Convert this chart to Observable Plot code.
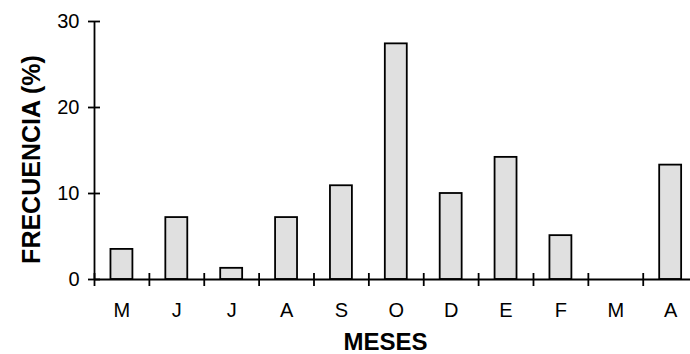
<!DOCTYPE html>
<html><head><meta charset="utf-8">
<script src="https://cdn.jsdelivr.net/npm/d3@7"></script>
<script src="https://cdn.jsdelivr.net/npm/@observablehq/plot@0.6"></script>
<style>body{margin:0;background:#fff}</style>
</head><body><div id="chart"></div>
<script>
const months = ["M","J","J","A","S","O","D","E","F","M","A"];
const frequency = [3.5, 7.2, 1.3, 7.2, 10.9, 27.4, 10.0, 14.2, 5.1, 0, 13.3];
const yTicks = [0, 10, 20, 30];
const yLabel = "FRECUENCIA (%)";
const xLabel = "MESES";

const data = months.map((m, i) => ({i, m, v: frequency[i]}));
const bars = data.filter(d => d.v > 0);
const boundaries = d3.range(months.length + 1);
const centers = months.map((m, i) => i + 0.5);

const chart = Plot.plot({
  width: 690, height: 354,
  marginLeft: 94, marginTop: 21, marginBottom: 75, marginRight: 0,
  style: {fontFamily: "'Liberation Sans', Arial, sans-serif", fontSize: "20px", color: "#000", background: "#fff", overflow: "hidden"},
  x: {domain: [0, months.length], range: [94, 697.6]},
  y: {domain: [0, 30], range: [279, 21]},
  marks: [
    Plot.rectY(bars, {x1: d => d.i + 0.3, x2: d => d.i + 0.7, y: "v", fill: "#e0e0e0", stroke: "#000", strokeWidth: 1.8}),
    Plot.ruleY([0], {stroke: "#000", strokeWidth: 1.8}),
    Plot.ruleX([0], {stroke: "#000", strokeWidth: 1.8}),
    Plot.axisY({ticks: yTicks, tickSize: 12, dx: 6, tickPadding: 9, strokeWidth: 1.8, label: null, fontSize: 20}),
    Plot.axisX({ticks: boundaries, tickSize: 13, dy: -6, tickFormat: () => "", label: null, strokeWidth: 1.8}),
    Plot.axisX({ticks: centers, tickSize: 0, tickPadding: 23, tickFormat: t => months[Math.floor(t)], label: null, fontSize: 20}),
    Plot.text([yLabel], {text: d => d, frameAnchor: "left", textAnchor: "middle", dx: -63, dy: 9, rotate: -90, fontWeight: "bold", fontSize: 25, lineAnchor: "middle"}),
    Plot.text([xLabel], {text: d => d, frameAnchor: "bottom", dx: -7, dy: 62.5, fontWeight: "bold", fontSize: 24, lineAnchor: "middle"})
  ]
});
document.getElementById("chart").append(chart);
</script>
</body></html>
